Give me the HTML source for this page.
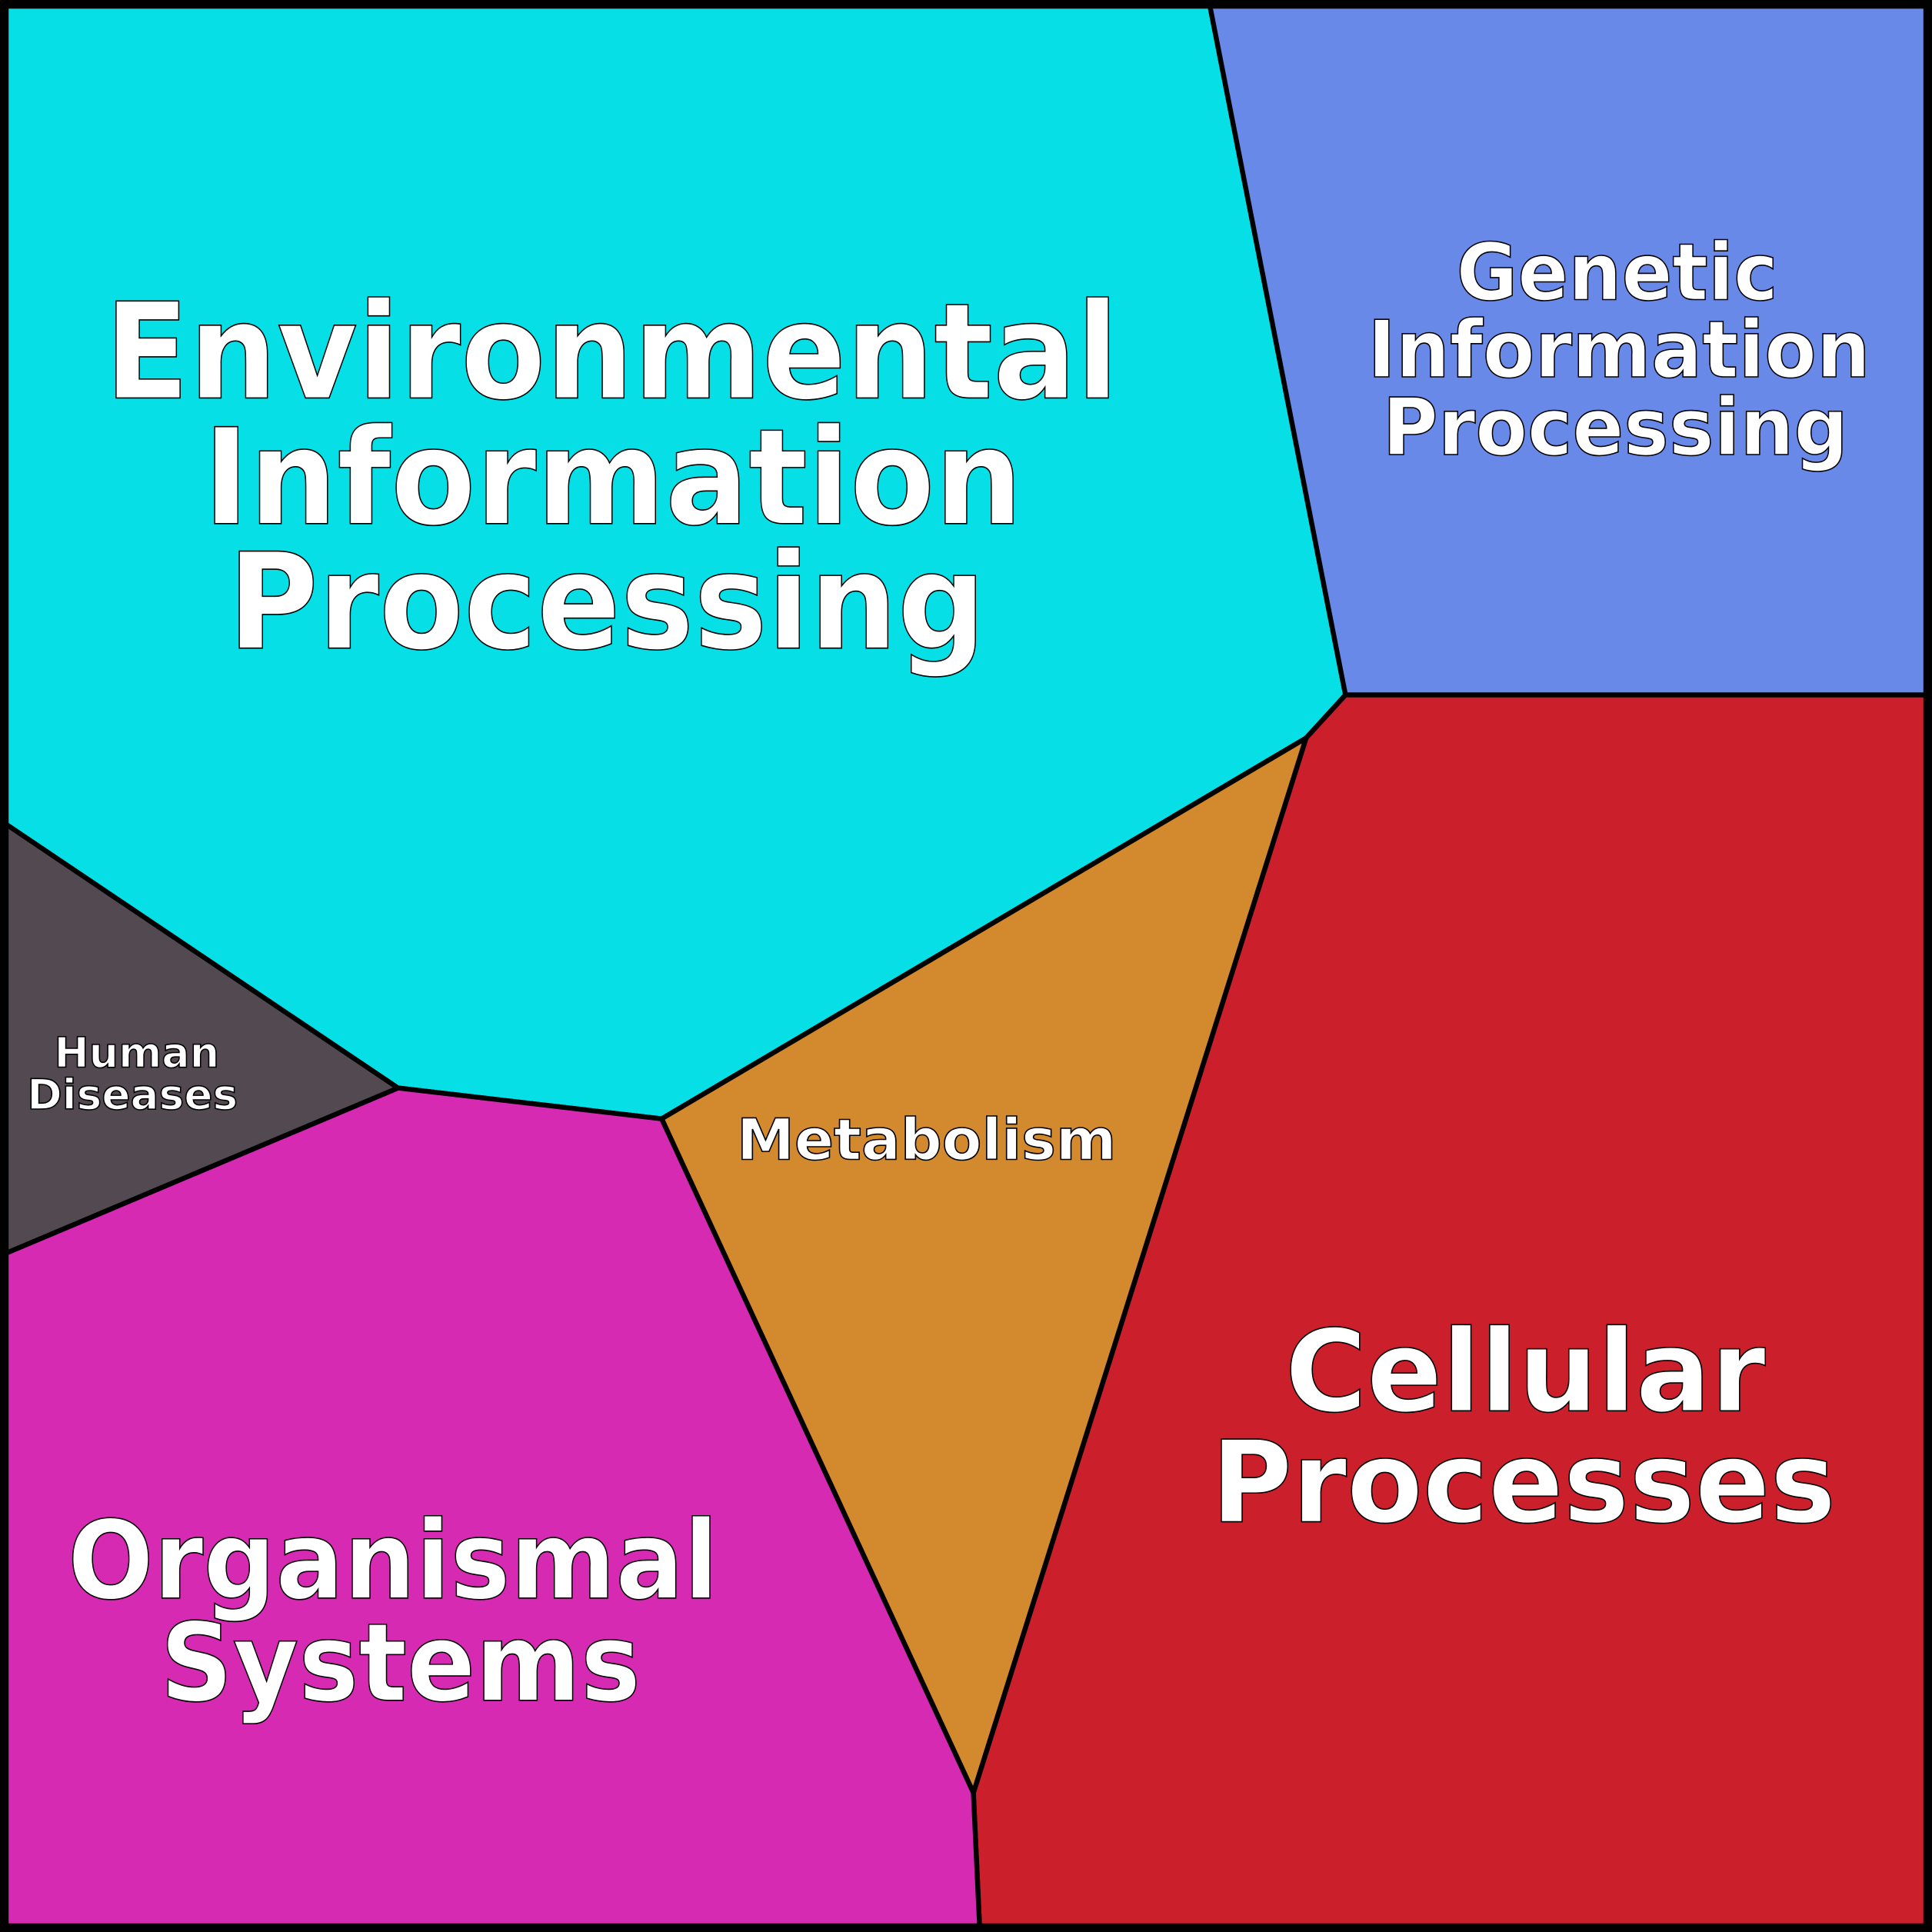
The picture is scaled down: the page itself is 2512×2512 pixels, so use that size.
<!DOCTYPE html>
<html><head><style>html,body{margin:0;padding:0;background:#000}svg{display:block}</style></head>
<body>
<svg width="2512" height="2512" viewBox="0 0 1568 1568" xmlns="http://www.w3.org/2000/svg">
<rect x="0" y="0" width="1568" height="1568" fill="#000"/>
<g stroke="#000" stroke-width="4" stroke-linejoin="round">
<polygon fill="#06DFE6" points="5,5 982,5 1092,564 1060,599 537,908 323,883 5,669"/>
<polygon fill="#6889E8" points="982,5 1563,5 1563,564 1092,564"/>
<polygon fill="#CC1F2C" points="1092,564 1563,564 1563,1563 795,1563 790,1455 1060,599"/>
<polygon fill="#D38A2E" points="1060,599 537,908 790,1455"/>
<polygon fill="#D62AB3" points="5,1017 323,883 537,908 790,1455 795,1563 5,1563"/>
<polygon fill="#524A50" points="5,669 323,883 5,1017"/>
</g>
<rect x="3" y="3" width="1562" height="1562" fill="none" stroke="#000" stroke-width="7"/>
<g font-family="'DejaVu Sans','Liberation Sans',sans-serif" font-weight="bold" fill="#fff" stroke="#000" stroke-width="1" lengthAdjust="spacingAndGlyphs">
<text x="85" y="323" font-size="108" textLength="823" lengthAdjust="spacingAndGlyphs">Environmental</text>
<text x="165" y="425" font-size="108" textLength="665" lengthAdjust="spacingAndGlyphs">Information</text>
<text x="185" y="526" font-size="108" textLength="615" lengthAdjust="spacingAndGlyphs">Processing</text>
<text x="1182" y="243" font-size="64" textLength="261" lengthAdjust="spacingAndGlyphs">Genetic</text>
<text x="1110" y="306" font-size="64" textLength="408" lengthAdjust="spacingAndGlyphs">Information</text>
<text x="1122" y="369" font-size="64" textLength="378" lengthAdjust="spacingAndGlyphs">Processing</text>
<text x="1043" y="1145" font-size="92" textLength="390" lengthAdjust="spacingAndGlyphs">Cellular</text>
<text x="983" y="1235" font-size="92" textLength="507" lengthAdjust="spacingAndGlyphs">Processes</text>
<text x="55" y="1297" font-size="88" textLength="528" lengthAdjust="spacingAndGlyphs">Organismal</text>
<text x="130" y="1380" font-size="88" textLength="390" lengthAdjust="spacingAndGlyphs">Systems</text>
<text x="598" y="941" font-size="46" textLength="308" lengthAdjust="spacingAndGlyphs">Metabolism</text>
<text x="44" y="866" font-size="34" textLength="134" lengthAdjust="spacingAndGlyphs">Human</text>
<text x="22" y="900" font-size="34" textLength="171" lengthAdjust="spacingAndGlyphs">Diseases</text>
</g>
</svg>
</body></html>
